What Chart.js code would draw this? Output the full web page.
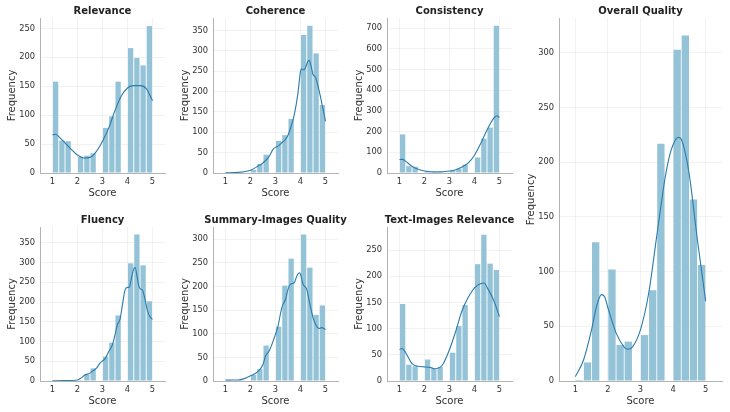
<!DOCTYPE html>
<html>
<head>
<meta charset="utf-8">
<script src="https://cdn.jsdelivr.net/npm/chart.js@4.4.1/dist/chart.umd.min.js"></script>
<style>
  html, body { margin: 0; padding: 0; background: #fff; overflow: hidden; }
  body { width: 730px; height: 412px; position: relative; }
  canvas { position: absolute; }
</style>
</head>
<body>
<script>
// histogram bins (centres of 0.25-wide bins from 1 to 5)
const binCenters = [1.125, 1.375, 1.625, 1.875, 2.125, 2.375, 2.625, 2.875,
                    3.125, 3.375, 3.625, 3.875, 4.125, 4.375, 4.625, 4.875];
const scoreTicks = [1, 2, 3, 4, 5];

// Relevance
const relevanceCounts = [158, 56, 55, 0, 28, 30, 34, 0, 78, 98, 158, 0, 216, 199, 186, 254];
const relevanceKdeX = [1, 1.125, 1.25, 1.5, 1.75, 2, 2.25, 2.5, 2.75, 3, 3.25, 3.5, 3.75, 4, 4.25, 4.5, 4.75, 5];
const relevanceKde = [66, 67, 63, 52, 41, 31, 26, 27, 37, 55, 78, 108, 133, 147, 151, 151, 146, 125];
const relevanceTicks = [0, 50, 100, 150, 200, 250];

// Coherence
const coherenceCounts = [1, 0, 2, 0, 8, 22, 45, 0, 79, 93, 133, 0, 339, 362, 294, 167];
const coherenceKdeX = [1, 1.5, 2, 2.25, 2.5, 2.75, 2.9, 3, 3.1, 3.25, 3.4, 3.5, 3.6, 3.75, 3.9, 4, 4.05, 4.12, 4.2, 4.3, 4.35, 4.42, 4.5, 4.58, 4.65, 4.75, 4.85, 5];
const coherenceKde = [0.5, 1.5, 7, 15, 25, 41, 58, 63, 66, 74, 83, 93, 110, 143, 197, 250, 256, 253, 259, 275, 277, 263, 242, 237, 226, 201, 172, 127];
const coherenceTicks = [0, 50, 100, 150, 200, 250, 300, 350];

// Consistency
const consistencyCounts = [187, 33, 30, 0, 10, 8, 8, 0, 11, 21, 41, 0, 75, 166, 220, 713];
const consistencyKdeX = [1, 1.125, 1.25, 1.5, 1.75, 2, 2.5, 3, 3.25, 3.5, 3.75, 4, 4.25, 4.5, 4.75, 4.9, 5];
const consistencyKde = [65, 66, 56, 33, 18, 10, 5, 10, 16, 29, 49, 86, 143, 208, 262, 277, 268];
const consistencyTicks = [0, 100, 200, 300, 400, 500, 600, 700];

// Overall Quality
const overallCounts = [1, 17, 127, 0, 102, 33, 36, 0, 42, 83, 217, 0, 303, 316, 166, 106];
const overallKdeX = [1, 1.25, 1.5, 1.65, 1.8, 1.9, 2, 2.25, 2.5, 2.6, 2.75, 3, 3.25, 3.5, 3.65, 3.75, 3.9, 4, 4.15, 4.25, 4.4, 4.5, 4.75, 5];
const overallKde = [4, 19, 47, 68, 79, 77, 67, 44, 31, 29, 31, 47, 80, 133, 165, 185, 207, 216, 223, 221, 205, 188, 128, 73];
const overallTicks = [0, 50, 100, 150, 200, 250, 300];

// Fluency
const fluencyCounts = [1, 1, 1, 0, 2, 17, 32, 0, 62, 97, 166, 0, 298, 371, 293, 202];
const fluencyKdeX = [1, 1.5, 2, 2.15, 2.3, 2.5, 2.6, 2.75, 2.9, 3, 3.1, 3.25, 3.4, 3.5, 3.6, 3.7, 3.8, 3.9, 4, 4.07, 4.15, 4.25, 4.3, 4.38, 4.45, 4.5, 4.6, 4.7, 4.8, 4.9, 5];
const fluencyKde = [0.5, 1, 2.5, 8, 15, 20, 25, 32, 45, 51, 56, 75, 92, 117, 143, 156, 194, 230, 237, 237, 258, 284, 288, 266, 241, 234, 230, 207, 177, 163, 156];
const fluencyTicks = [0, 50, 100, 150, 200, 250, 300, 350];

// Summary-Images Quality
const summaryCounts = [2, 1, 2, 0, 13, 25, 75, 0, 115, 202, 259, 0, 310, 240, 140, 160];
const summaryKdeX = [1, 1.25, 1.5, 1.75, 2, 2.25, 2.5, 2.6, 2.75, 3, 3.1, 3.25, 3.4, 3.5, 3.6, 3.75, 3.85, 3.95, 4, 4.1, 4.25, 4.35, 4.5, 4.6, 4.75, 4.85, 5];
const summaryKde = [2, 2, 2, 5, 11, 18, 35, 53, 64, 99, 116, 155, 173, 194, 205, 208, 222, 229, 226, 205, 194, 169, 134, 120, 111, 113, 109];
const summaryTicks = [0, 50, 100, 150, 200, 250, 300];

// Text-Images Relevance
const textImagesCounts = [147, 31, 28, 0, 41, 23, 27, 0, 54, 105, 145, 0, 223, 279, 224, 212];
const textImagesKdeX = [1, 1.1, 1.25, 1.5, 1.75, 2, 2.25, 2.4, 2.6, 2.75, 3, 3.25, 3.5, 3.75, 4, 4.25, 4.4, 4.5, 4.75, 5];
const textImagesKde = [60, 62, 54, 33, 28, 27, 25.5, 23.5, 25.5, 33, 60, 95, 134, 160, 178, 186, 187, 179, 156, 123];
const textImagesTicks = [0, 50, 100, 150, 200, 250];

const barColor = '#94c3d8';
const lineColor = '#2b7bab';
const gridColor = 'rgba(0,0,0,0.05)';
const spineColor = '#b3b3b3';
const textColor = '#333';

// axes boxes on the page (chart area), plus y limit
const panels = [
  { title: 'Relevance', counts: relevanceCounts, kdeX: relevanceKdeX, kde: relevanceKde, yTicks: relevanceTicks, yMax: 268, box: { left: 40, right: 165, top: 18, bottom: 173 } },
  { title: 'Coherence', counts: coherenceCounts, kdeX: coherenceKdeX, kde: coherenceKde, yTicks: coherenceTicks, yMax: 381, box: { left: 213, right: 338, top: 18, bottom: 173 } },
  { title: 'Consistency', counts: consistencyCounts, kdeX: consistencyKdeX, kde: consistencyKde, yTicks: consistencyTicks, yMax: 750, box: { left: 387, right: 512, top: 18, bottom: 173 } },
  { title: 'Overall Quality', counts: overallCounts, kdeX: overallKdeX, kde: overallKde, yTicks: overallTicks, yMax: 332, box: { left: 559, right: 722, top: 18, bottom: 381 } },
  { title: 'Fluency', counts: fluencyCounts, kdeX: fluencyKdeX, kde: fluencyKde, yTicks: fluencyTicks, yMax: 390, box: { left: 40, right: 165, top: 227, bottom: 381 } },
  { title: 'Summary-Images Quality', counts: summaryCounts, kdeX: summaryKdeX, kde: summaryKde, yTicks: summaryTicks, yMax: 326, box: { left: 213, right: 338, top: 227, bottom: 381 } },
  { title: 'Text-Images Relevance', counts: textImagesCounts, kdeX: textImagesKdeX, kde: textImagesKde, yTicks: textImagesTicks, yMax: 294, box: { left: 387, right: 512, top: 227, bottom: 381 } }
];

// title drawn centred over the plot area (the built-in one centres on the canvas)
const panelTitle = {
  id: 'panelTitle',
  afterDraw(chart, args, opts) {
    const { ctx, chartArea } = chart;
    ctx.save();
    ctx.font = 'bold 10px "DejaVu Sans"';
    ctx.fillStyle = '#222';
    ctx.textAlign = 'center';
    ctx.textBaseline = 'middle';
    ctx.fillText(opts.text, (chartArea.left + chartArea.right) / 2, chartArea.top - 7);
    ctx.restore();
  }
};

const tickFont = { family: 'DejaVu Sans', size: 8.3 };
const labelFont = { family: 'DejaVu Sans', size: 10 };

panels.forEach((p) => {
  const canvas = document.createElement('canvas');
  const w = p.box.right - p.box.left + 40 + 14;
  const h = p.box.bottom - p.box.top + 18 + 32;
  canvas.width = w;
  canvas.height = h;
  canvas.style.width = w + 'px';
  canvas.style.height = h + 'px';
  canvas.style.left = (p.box.left - 40) + 'px';
  canvas.style.top = (p.box.top - 18) + 'px';
  document.body.appendChild(canvas);

  new Chart(canvas, {
    type: 'bar',
    data: {
      datasets: [
        {
          type: 'line',
          data: p.kdeX.map((x, i) => ({ x: x, y: p.kde[i] })),
          borderColor: lineColor,
          borderWidth: 1.1,
          pointRadius: 0,
          cubicInterpolationMode: 'monotone',
          fill: false,
          order: 0
        },
        {
          type: 'bar',
          data: binCenters.map((x, i) => ({ x: x, y: p.counts[i] })),
          backgroundColor: barColor,
          borderWidth: 0,
          categoryPercentage: 1,
          barPercentage: p.box.right - p.box.left > 140 ? 0.9 : 0.85,
          order: 1
        }
      ]
    },
    plugins: [panelTitle],
    options: {
      responsive: false,
      animation: false,
      devicePixelRatio: 1,
      layout: { padding: { left: 0, right: 14, top: 18, bottom: 0 } },
      plugins: {
        legend: { display: false },
        tooltip: { enabled: false },
        title: { display: false },
        panelTitle: { text: p.title }
      },
      scales: {
        x: {
          type: 'linear',
          min: 0.5,
          max: 5.5,
          offset: false,
          afterBuildTicks: (ax) => { ax.ticks = scoreTicks.map(v => ({ value: v })); },
          afterFit: (ax) => { ax.height = 32; },
          grid: { color: gridColor, drawTicks: false, offset: false },
          border: { color: spineColor, width: 1 },
          ticks: { font: tickFont, color: textColor, padding: 4, maxRotation: 0 },
          title: { display: true, text: 'Score', font: labelFont, color: textColor, padding: { top: 0, bottom: 6 } }
        },
        y: {
          type: 'linear',
          min: 0,
          max: p.yMax,
          afterBuildTicks: (ax) => { ax.ticks = p.yTicks.map(v => ({ value: v })); },
          afterFit: (ax) => { ax.width = 40; },
          grid: { color: gridColor, drawTicks: false },
          border: { color: spineColor, width: 1 },
          ticks: { font: tickFont, color: textColor, padding: 5 },
          title: { display: true, text: 'Frequency', font: labelFont, color: textColor, padding: { top: 6, bottom: 0 } }
        }
      }
    }
  });
});
</script>
</body>
</html>
